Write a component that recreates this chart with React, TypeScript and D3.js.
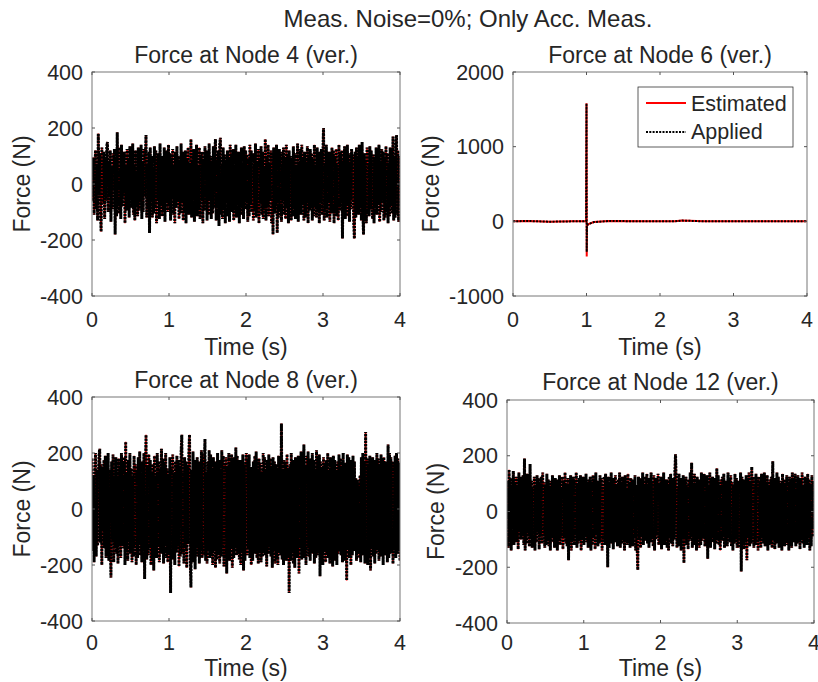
import React from 'react';
import * as d3 from 'd3';

const mainTitle = 'Meas. Noise=0%; Only Acc. Meas.';
const panelTitles = ['Force at Node 4 (ver.)', 'Force at Node 6 (ver.)', 'Force at Node 8 (ver.)', 'Force at Node 12 (ver.)'];
const xTicks = [0, 1, 2, 3, 4];
const yTicksSmall = [-400, -200, 0, 200, 400];
const yTicksNode6 = [-1000, 0, 1000, 2000];
const legendLabels = ['Estimated', 'Applied'];
const xLabel = 'Time (s)';
const yLabel = 'Force (N)';

const node4Applied = [
  80,-60,95,-110,40,120,-90,65,-130,180,-40,110,-95,-170,130,-70,20,115,-125,90,
  -60,135,150,-100,75,-45,120,-135,60,-90,110,-20,125,-180,95,-115,185,-70,130,-105,
  55,-125,140,-80,100,-35,115,-140,70,-95,125,-60,90,-120,135,-50,105,-85,145,-110,
  65,-130,120,-75,40,-115,130,-95,110,-60,140,-125,80,-100,125,-45,95,175,-120,70,
  -90,115,-175,130,-65,100,-120,55,-105,135,-80,120,-140,90,-55,110,-125,145,-70,100,
  -115,60,-95,130,-135,85,-60,120,-100,140,-75,110,-130,95,-50,125,-110,70,-140,115,
  -85,135,-60,100,-125,80,-105,145,-70,115,-130,55,-95,120,-140,90,-65,130,-110,75,
  -100,160,-120,85,-55,125,-135,100,-80,140,-115,65,-90,130,-125,105,-60,115,-140,80,
  -95,135,-70,120,-130,90,-110,145,-60,100,-125,75,-105,135,-85,115,160,-130,95,-65,
  120,-150,140,165,-110,70,-125,130,-90,105,-140,85,-60,120,-115,95,-135,140,-75,110,
  -100,125,-130,60,-95,140,-120,85,-65,115,-140,100,-80,130,-110,75,-125,135,-90,120,
  -60,105,-135,90,-115,140,-75,120,-100,65,-130,110,-90,145,-120,80,-105,125,-140,95,
  -70,135,-110,115,-125,60,-95,160,-130,100,-85,140,-115,75,-60,120,-140,90,-180,130,
  -105,110,-75,140,-175,85,-120,125,-95,70,-135,115,-60,130,-110,95,-125,140,-80,105,
  -140,120,-65,100,-130,85,-115,135,-90,110,-125,60,-100,145,-135,75,-85,125,-110,140,
  -70,95,-130,115,-120,80,-60,135,-140,105,-95,125,-75,110,-130,90,-115,140,-85,65,
  -120,130,-100,85,-140,115,-65,125,-110,95,200,-130,75,-90,140,-120,105,-60,115,-135,
  90,-105,130,-75,120,-140,100,-85,125,-115,70,-130,140,-95,110,-60,120,-195,85,-110,
  135,-125,95,-70,140,-115,80,-135,110,-90,125,-60,105,-140,-195,115,-120,130,-85,100,
  -110,140,-75,120,-130,150,-95,-180,110,-125,85,-140,130,-100,70,-115,135,-90,120,-60,
  -125,105,-140,95,-85,130,-110,120,-70,140,-135,80,-100,125,-60,115,-130,90,-120,135,
  -95,110,-140,75,-115,130,-80,125,-105,170,-130,95,-120,140,175,-110,120,-135,100,-70,
];
const node4Estimated = node4Applied;

const node6Time = [0, 0.2, 0.5, 0.8, 0.97, 0.995, 1.0, 1.003, 1.006, 1.02, 1.1, 1.3, 1.8, 2.2, 2.3, 2.6, 3.0, 3.5, 4.0];
const node6Applied = [0, 5, -5, 0, 0, 0, 1580, -410, -60, -40, -10, 5, 0, 0, 10, 0, 0, 0, 0];
const node6Estimated = [0, 5, -5, 0, 0, 0, 1580, -470, -60, -40, -10, 5, 0, 0, 10, 0, 0, 0, 0];

const node8Applied = [
  180,-150,120,-190,60,200,-170,140,-130,100,190,215,-120,160,-200,150,-80,175,-140,190,
  -175,130,-160,200,-185,140,-100,-245,170,-110,195,-190,110,-140,185,-160,120,-195,180,-130,
  150,-175,200,-125,165,-140,185,-200,240,-150,130,-185,175,-110,200,-160,145,-190,120,-170,
  190,-135,160,-200,140,-175,185,-120,205,-165,115,-190,170,-150,200,-250,130,265,-180,150,
  -165,195,-140,175,-200,130,-185,160,-220,190,-150,120,-175,200,-135,170,-190,145,-160,215,
  -140,180,-195,160,-125,200,-175,145,-190,120,-165,185,-300,150,-140,195,-180,130,-200,170,
  -155,190,-135,175,-205,145,-170,200,265,-160,130,-195,185,-140,170,-210,150,-125,195,265,
  -175,-280,140,-190,205,-160,175,-215,150,-130,185,-170,120,-195,170,-150,210,-175,195,-165,
  140,250,-185,130,-195,170,-150,210,-175,195,-165,140,-200,185,-150,170,-210,135,-180,200,
  -160,175,-195,145,-170,210,-140,190,-205,160,-175,185,-230,150,-135,200,-185,170,-140,195,
  -210,160,-175,185,-130,220,-165,190,-155,175,-180,140,-200,175,-150,195,-220,160,-185,145,
  200,-165,180,-140,195,-175,150,-200,130,-185,170,-145,190,-160,205,-175,140,-195,180,-155,
  165,-190,135,-170,200,-150,185,-165,140,-205,175,-160,195,-135,180,-170,150,-210,185,-145,
  170,-195,160,-180,140,-200,190,-155,175,-165,305,-180,140,-200,175,-150,160,-185,195,-170,
  145,-300,160,-185,200,-150,175,-195,140,-210,185,-160,150,-175,190,-230,165,-140,205,-180,
  170,-155,230,-175,150,-200,190,-140,205,-170,165,-185,180,-150,200,-160,175,-195,140,-175,
  210,-165,185,-150,195,-240,170,-180,150,-200,185,-145,165,-190,175,-160,200,-175,140,-195,
  185,-170,160,-205,190,-150,175,-185,140,-200,170,-160,195,-145,180,-165,155,-190,200,-175,
  150,-185,165,-255,195,-140,185,-175,150,-200,175,-165,190,-140,170,-150,110,-185,105,-160,
  95,-175,120,-190,185,-165,200,-150,170,-195,275,-150,180,-200,160,-175,190,-220,165,-140,
  185,-170,150,-195,175,-160,200,-145,180,-185,160,-170,195,-150,175,-200,185,-140,170,-165,
  155,-190,230,-175,200,-160,185,-150,170,-195,165,-140,190,-175,200,-160,180,-150,165,-185,
];
const node8Estimated = node8Applied;

const node12Applied = [
  -20,110,-130,150,-95,120,-140,90,-60,145,-120,105,-85,125,-110,95,-135,140,-75,115,
  -100,125,-90,130,-120,190,-140,100,-115,135,-80,120,-125,170,-95,110,-130,85,-105,125,
  -140,95,-110,130,-75,120,-135,100,-90,125,-115,140,-85,105,-130,90,-120,135,-100,115,
  -125,85,-140,110,-95,130,-110,100,-130,120,-80,115,-140,95,-105,130,-120,85,-95,125,
  -135,110,-90,140,-115,100,-125,120,-175,95,-110,130,-140,85,-100,125,-120,105,-85,140,
  -130,95,-115,120,-105,130,-140,90,-95,125,-120,110,-85,135,-110,100,-130,115,-90,125,
  -140,105,-120,130,-95,115,-135,140,-80,110,-125,95,-115,130,-105,120,-140,90,-100,125,
  -120,135,-95,110,-200,125,-130,100,-85,140,-115,105,-135,120,-90,130,-110,95,-125,115,
  -100,140,-130,90,-115,125,-95,110,-140,130,-105,85,-120,135,-110,100,-130,120,-95,115,
  -125,105,-90,130,-140,95,-115,-210,125,-100,120,-130,110,-85,140,-120,100,-105,125,-95,
  135,-115,90,-130,120,-110,140,-95,105,-125,130,-140,115,-100,120,-85,135,-120,95,-110,
  125,-135,110,-95,140,-120,115,-105,115,-130,100,-140,125,-90,135,-115,95,-125,120,-100,
  140,205,105,-130,90,-125,135,-115,100,-140,120,-95,130,-185,110,-100,125,-120,95,-135,
  115,-105,140,-90,175,-130,100,-120,135,-110,95,-140,125,-100,115,-130,90,-120,140,-105,
  120,-95,135,-125,105,-115,130,-170,90,-100,140,-130,115,-110,125,-95,100,-135,120,-115,
  155,-100,130,-120,95,-140,115,-105,125,-90,135,-130,110,-120,100,-125,140,-95,120,-110,
  130,-125,105,-140,95,-115,135,-100,120,-130,110,-130,90,-105,140,-215,125,-95,115,-135,
  100,-110,130,-175,120,-95,140,-125,105,-115,160,-100,125,-130,95,-120,135,-110,115,-140,
  125,-100,110,-130,135,-95,120,-115,140,-125,100,-105,130,-140,95,-120,115,-110,125,-130,
  180,-100,120,-135,105,-115,140,-95,125,-130,110,-120,100,-140,135,-105,115,-125,95,-110,
  130,-120,105,-140,125,-95,115,-130,140,-100,120,-110,135,-125,95,-115,130,-105,110,-135,
  120,-100,140,-115,95,-130,125,-110,105,-120,135,-95,115,-140,100,-125,130,-90,110,-60,
];
const node12Estimated = node12Applied;

const TXT = '#262626';
const FONT = '"Liberation Sans", Arial, Helvetica, sans-serif';

function sampleTimes(n: number): number[] {
  return d3.range(n).map((i) => (i * 4) / (n - 1));
}

type Panel = {
  title: string;
  left: number; right: number; top: number; bottom: number;
  yDomain: [number, number];
  yTicks: number[];
  times: number[];
  applied: number[];
  estimated: number[];
  titleY: number; tickY: number; labelY: number; ylabelX: number;
  legend: boolean;
  dense: boolean;
};

function PanelView({ p, id }: { p: Panel; id: string }) {
  const x = d3.scaleLinear().domain([0, 4]).range([p.left, p.right]);
  const y = d3.scaleLinear().domain(p.yDomain).range([p.bottom, p.top]);
  const line = d3.line<number>().x((_, i) => x(p.times[i])).y((d) => y(d));
  const cx = (p.left + p.right) / 2;
  const cy = (p.top + p.bottom) / 2;
  const tl = 3;
  return (
    <g>
      <defs>
        <clipPath id={id}>
          <rect x={p.left} y={p.top} width={p.right - p.left} height={p.bottom - p.top} />
        </clipPath>
      </defs>
      <g clipPath={`url(#${id})`}>
        <path d={line(p.estimated) || ''} fill="none" stroke="#ff0000" strokeWidth={p.dense ? 1.6 : 2} />
        <path d={line(p.applied) || ''} fill="none" stroke="#000" strokeWidth={p.dense ? 3 : 2} strokeDasharray={p.dense ? '2.4 0.9' : '2 1.3'} />
      </g>
      <rect x={p.left} y={p.top} width={p.right - p.left} height={p.bottom - p.top} fill="none" stroke="#777" strokeWidth={1} />
      {xTicks.map((t) => (
        <g key={'x' + t}>
          <line x1={x(t)} x2={x(t)} y1={p.bottom} y2={p.bottom - tl} stroke="#555" />
          <line x1={x(t)} x2={x(t)} y1={p.top} y2={p.top + tl} stroke="#555" />
          <text x={x(t)} y={p.tickY} textAnchor="middle" fontSize={21.5} fill={TXT}>{t}</text>
        </g>
      ))}
      {p.yTicks.map((t) => (
        <g key={'y' + t}>
          <line x1={p.left} x2={p.left + tl} y1={y(t)} y2={y(t)} stroke="#555" />
          <line x1={p.right} x2={p.right - tl} y1={y(t)} y2={y(t)} stroke="#555" />
          <text x={p.left - 9} y={y(t)} dy="0.36em" textAnchor="end" fontSize={21.5} fill={TXT}>{t}</text>
        </g>
      ))}
      <text x={cx} y={p.titleY} textAnchor="middle" fontSize={23} fill={TXT}>{p.title}</text>
      <text x={cx} y={p.labelY} textAnchor="middle" fontSize={23} fill={TXT}>{xLabel}</text>
      <text transform={`translate(${p.ylabelX},${cy}) rotate(-90)`} dy="0.36em" textAnchor="middle" fontSize={23} fill={TXT}>{yLabel}</text>
      {p.legend && (
        <g>
          <rect x={638} y={87} width={155} height={60} fill="#fff" stroke="#262626" strokeWidth={0.75} />
          <line x1={646} x2={686} y1={103} y2={103} stroke="#ff0000" strokeWidth={2} />
          <line x1={646} x2={686} y1={132} y2={132} stroke="#000" strokeWidth={2} strokeDasharray="2 1.3" />
          <text x={691} y={111} fontSize={21.5} fill={TXT}>{legendLabels[0]}</text>
          <text x={691} y={139} fontSize={21.5} fill={TXT}>{legendLabels[1]}</text>
        </g>
      )}
    </g>
  );
}

export default function App() {
  const panels: Panel[] = [
    { title: panelTitles[0], left: 92, right: 400, top: 72, bottom: 296, yDomain: [-400, 400], yTicks: yTicksSmall,
      times: sampleTimes(node4Applied.length), applied: node4Applied, estimated: node4Estimated,
      titleY: 63, tickY: 327, labelY: 355, ylabelX: 22, legend: false, dense: true },
    { title: panelTitles[1], left: 513, right: 807, top: 72, bottom: 296, yDomain: [-1000, 2000], yTicks: yTicksNode6,
      times: node6Time, applied: node6Applied, estimated: node6Estimated,
      titleY: 63, tickY: 327, labelY: 355, ylabelX: 431, legend: true, dense: false },
    { title: panelTitles[2], left: 92, right: 400, top: 397, bottom: 621, yDomain: [-400, 400], yTicks: yTicksSmall,
      times: sampleTimes(node8Applied.length), applied: node8Applied, estimated: node8Estimated,
      titleY: 388, tickY: 650, labelY: 676, ylabelX: 22, legend: false, dense: true },
    { title: panelTitles[3], left: 507, right: 814, top: 400, bottom: 623, yDomain: [-400, 400], yTicks: yTicksSmall,
      times: sampleTimes(node12Applied.length), applied: node12Applied, estimated: node12Estimated,
      titleY: 390, tickY: 650, labelY: 676, ylabelX: 436, legend: false, dense: true },
  ];
  return (
    <svg width={818} height={682} style={{ position: 'absolute', left: 0, top: 0, background: '#fff' }} fontFamily={FONT}>
      <rect x={0} y={0} width={818} height={682} fill="#fff" />
      <text x={468} y={27} textAnchor="middle" fontSize={24} fill={TXT}>{mainTitle}</text>
      {panels.map((p, i) => <PanelView key={i} p={p} id={'clip' + i} />)}
    </svg>
  );
}
